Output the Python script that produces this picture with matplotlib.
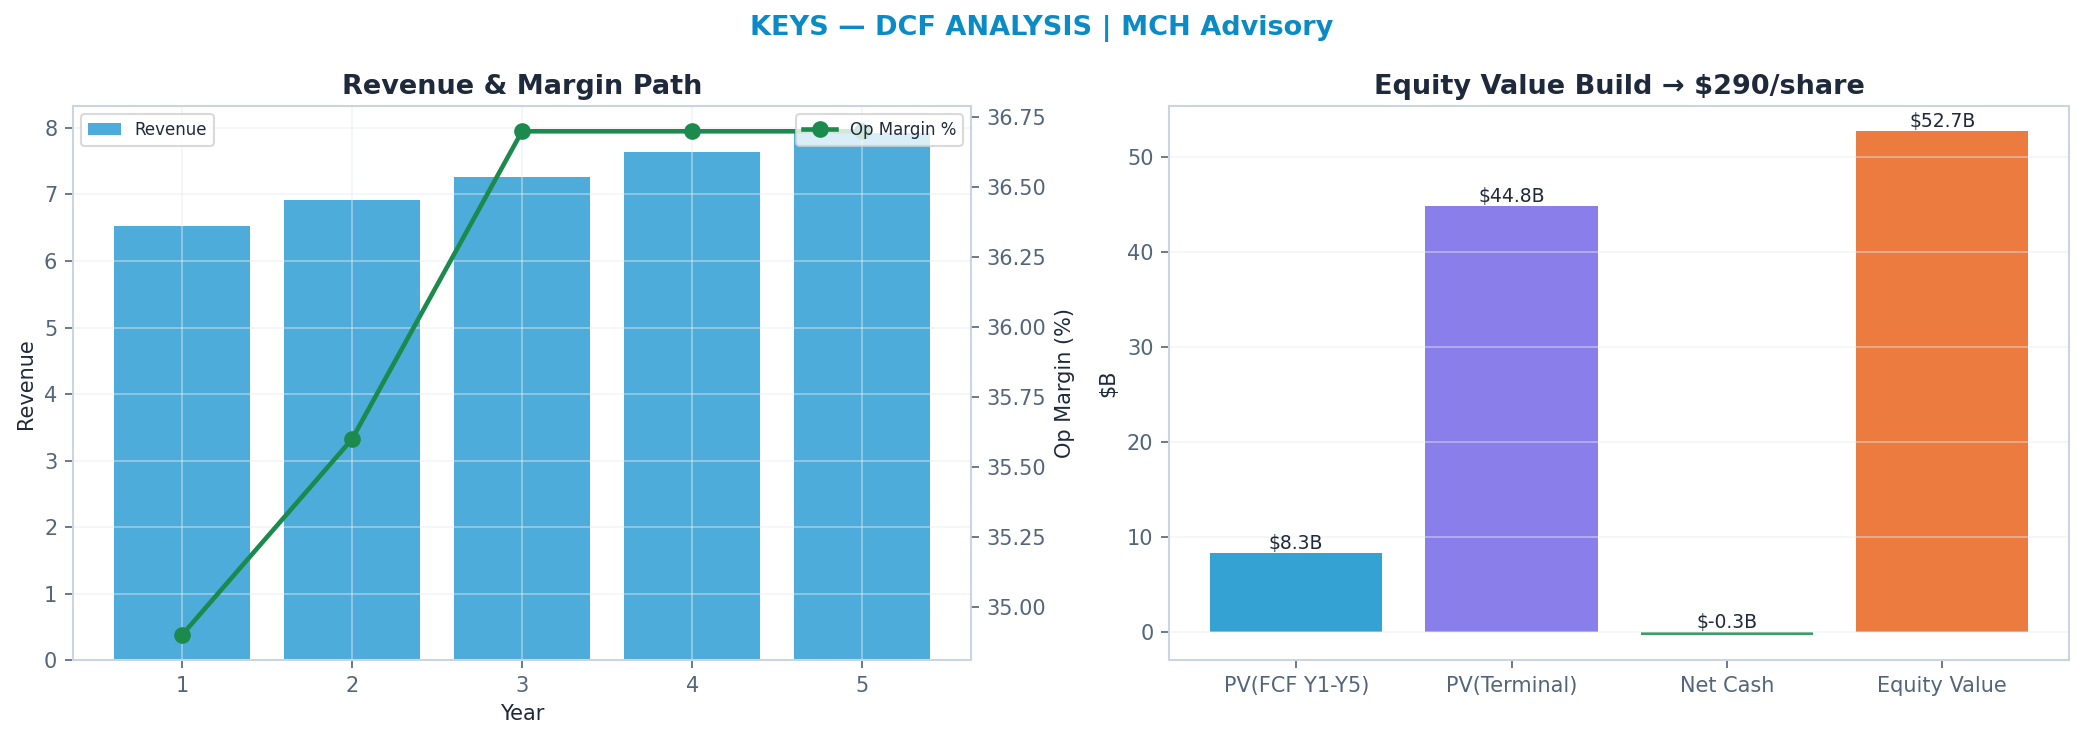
import matplotlib
matplotlib.use("Agg")
import matplotlib.pyplot as plt
import numpy as np

years = [1, 2, 3, 4, 5]
revenue = [6.53, 6.91, 7.26, 7.63, 7.93]
op_margin = [34.90, 35.60, 36.70, 36.70, 36.70]

bridge_labels = ["PV(FCF Y1-Y5)", "PV(Terminal)", "Net Cash", "Equity Value"]
bridge_values = [8.3, 44.8, -0.3, 52.7]
bridge_text = ["$8.3B", "$44.8B", "$-0.3B", "$52.7B"]
bridge_colors = ["#34A3D4", "#8A7FEA", "#3C9E66", "#EC7B3F"]

suptitle = "KEYS — DCF ANALYSIS | MCH Advisory"
title_left = "Revenue & Margin Path"
title_right = "Equity Value Build → $290/share"

TXT = "#1E293B"
TICK = "#52657A"
SPINE = "#CBD5E1"
GRID = "#E6EBF1"

plt.rcParams["font.family"] = ["DejaVu Sans"]

fig = plt.figure(figsize=(2084/150, 742/150), dpi=150)
ax1 = fig.add_axes([0.035, 0.11, 0.431, 0.747])
ax3 = fig.add_axes([0.561, 0.11, 0.432, 0.747])

def style(ax, axis="both"):
    for s in ax.spines.values():
        s.set_color(SPINE)
        s.set_linewidth(1.0)
    ax.tick_params(colors=TICK, labelsize=10, length=4)
    ax.grid(True, axis=axis, color=GRID, linewidth=0.8, alpha=0.5)

# Left panel
ax1.bar(years, revenue, color="#4DACD9", width=0.8, label="Revenue")
style(ax1)
ax1.set_xlabel("Year", color=TXT, fontsize=10)
ax1.set_ylabel("Revenue", color=TXT, fontsize=10)
ax1.set_title(title_left, color=TXT, fontsize=13, fontweight="bold", pad=6)
ax1.set_xticks(years)
ax1.legend(loc="upper left", fontsize=8, framealpha=0.8, edgecolor="#D0D0D0",
           labelcolor=TXT)

ax2 = ax1.twinx()
ax2.plot(years, op_margin, color="#1C8A4C", linewidth=2.2, marker="o",
         markersize=7, label="Op Margin %")
for s in ax2.spines.values():
    s.set_color(SPINE)
ax2.tick_params(colors=TICK, labelsize=10, length=4)
ax2.set_ylabel("Op Margin (%)", color=TXT, fontsize=10)
ax2.yaxis.set_major_formatter(matplotlib.ticker.FormatStrFormatter("%.2f"))
ax2.legend(loc="upper right", fontsize=8, framealpha=0.8, edgecolor="#D0D0D0",
           labelcolor=TXT)

# Right panel
x = np.arange(len(bridge_labels))
bars = ax3.bar(x, bridge_values, color=bridge_colors, width=0.8)
style(ax3, axis="y")
ax3.set_xticks(x)
ax3.set_xticklabels(bridge_labels)
ax3.set_ylabel("$B", color=TXT, fontsize=10)
ax3.set_title(title_right, color=TXT, fontsize=13, fontweight="bold", pad=6)
for b, t, v in zip(bars, bridge_text, bridge_values):
    ax3.text(b.get_x() + b.get_width()/2, max(v, 0), t, ha="center",
             va="bottom", fontsize=9, color=TXT)

fig.suptitle(suptitle, color="#0A8BC6", fontsize=13, fontweight="bold", y=0.98)

fig.savefig("out.png", dpi=150)
